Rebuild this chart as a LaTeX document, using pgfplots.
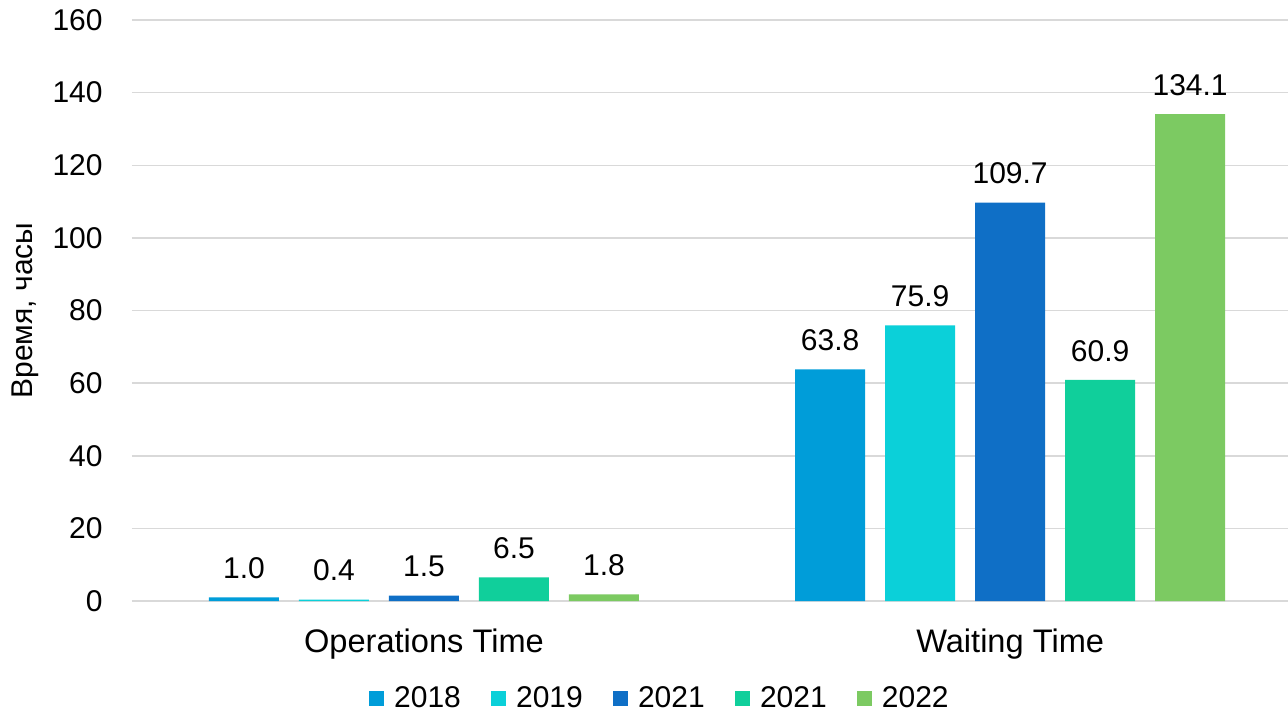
\documentclass[border=0pt]{standalone}
\usepackage{fontspec}
\setmainfont{Liberation Sans}
\usepackage{pgfplots}
\pgfplotsset{compat=1.18}
\definecolor{cA}{HTML}{009DD9}
\definecolor{cB}{HTML}{0BD0D9}
\definecolor{cC}{HTML}{0F6FC6}
\definecolor{cD}{HTML}{10CF9B}
\definecolor{cE}{HTML}{7CCA62}
\definecolor{gridc}{HTML}{D9D9D9}
\newcommand{\chartfont}{\fontsize{15}{18}\selectfont}
\newcommand{\catfont}{\fontsize{16.3}{19}\selectfont}
\begin{document}
\begin{tikzpicture}
\path[use as bounding box] (-66pt,-56.5pt) rectangle (578pt,300.5pt);
\begin{axis}[
  at={(0,0)}, anchor=south west,
  scale only axis,
  width=578pt, height=290.5pt,
  ybar=10pt, bar width=35pt,
  xmin=-0.498, xmax=1.474,
  ymin=0, ymax=160,
  ytick={0,20,...,160},
  xtick={0,1},
  xticklabels={Operations Time, Waiting Time},
  /pgf/number format/assume math mode=true,
  font=\chartfont,
  major tick length=0pt,
  axis line style={draw=none},
  ymajorgrids,
  grid style={draw=gridc, line width=0.75pt},
  yticklabel style={font=\chartfont, anchor=east, inner sep=0pt, xshift=-14.5pt},
  xticklabel style={font=\catfont, anchor=base, inner sep=0pt, yshift=-25.5pt},
  every axis y label/.style={at={(axis description cs:0,0.5)}, xshift=-53.5pt, rotate=90, anchor=center, font=\chartfont},
  ylabel={Время, часы},
  nodes near coords={\pgfmathprintnumber[fixed,fixed zerofill,precision=1,assume math mode=true]{\pgfplotspointmeta}},
  every node near coord/.append style={font=\chartfont, inner sep=0pt, anchor=south, yshift=9pt, text=black},
  legend columns=5,
  legend style={at={(axis description cs:0.205,-0.168)}, anchor=west, draw=none, inner sep=0pt, outer sep=0pt,
    font=\chartfont, nodes={inner sep=0pt},
    /tikz/every odd column/.append style={column sep=5pt},
    /tikz/every even column/.append style={column sep=15pt}},
  legend cell align=left,
  legend image code/.code={\fill[#1, draw=none] (0pt,-3.6pt) rectangle (7.6pt,3.8pt);},
]
\addplot[fill=cA, draw=none] coordinates {(0,1.0) (1,63.8)};
\addplot[fill=cB, draw=none] coordinates {(0,0.4) (1,75.9)};
\addplot[fill=cC, draw=none] coordinates {(0,1.5) (1,109.7)};
\addplot[fill=cD, draw=none] coordinates {(0,6.5) (1,60.9)};
\addplot[fill=cE, draw=none] coordinates {(0,1.8) (1,134.1)};
\legend{2018,2019,2021,2021,2022}
\end{axis}
\end{tikzpicture}
\end{document}
